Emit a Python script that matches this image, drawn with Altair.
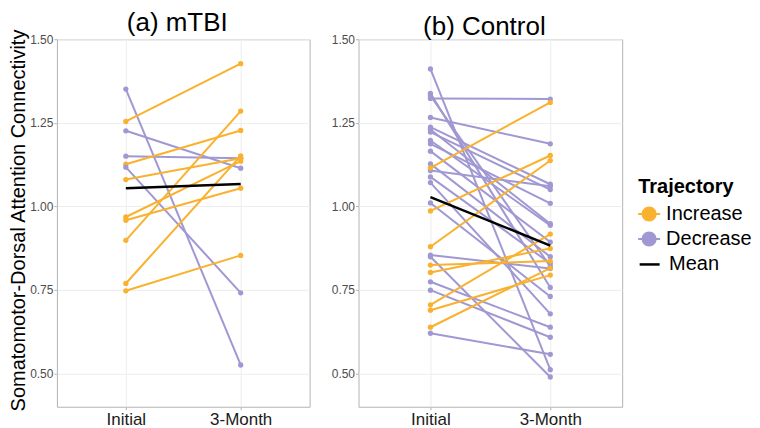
import altair as alt
import pandas as pd

groups = ["(a) mTBI", "(b) Control"]
times = ["Initial", "3-Month"]
trajectories = ["Increase", "Decrease"]
traj_colors = ["#F9B12E", "#A098D2"]

mtbi_initial = [1.351, 1.254, 1.226, 1.150, 1.126, 1.117, 1.080, 0.968, 0.958, 0.898, 0.769, 0.747]
mtbi_month3 = [0.525, 1.427, 1.114, 1.144, 1.227, 0.741, 1.144, 1.135, 1.054, 1.285, 1.151, 0.853]

control_initial = [1.411, 1.338, 1.331, 1.323, 1.266, 1.237, 1.230, 1.222, 1.197, 1.187,
                   1.165, 1.127, 1.107, 1.088, 1.071, 1.010, 0.854, 0.849, 0.774, 0.749,
                   0.620, 1.115, 0.986, 0.879, 0.824, 0.802, 0.705, 0.689, 0.638]
control_month3 = [0.511, 0.757, 0.820, 1.321, 1.187, 1.066, 0.948, 1.050, 0.943, 1.009,
                  0.893, 0.849, 1.060, 0.829, 0.678, 0.730, 0.814, 0.489, 0.638, 0.608,
                  0.557, 1.311, 1.152, 1.137, 0.836, 0.874, 0.917, 0.794, 0.815]

y_ticks = [0.5, 0.75, 1.0, 1.25, 1.5]

rows = []
for g, ini, m3 in [(groups[0], mtbi_initial, mtbi_month3), (groups[1], control_initial, control_month3)]:
    for i, (a, b) in enumerate(zip(ini, m3)):
        traj = "Increase" if b > a else "Decrease"
        rows.append(dict(group=g, subject=f"{g}-{i}", time=times[0], value=a, traj=traj))
        rows.append(dict(group=g, subject=f"{g}-{i}", time=times[1], value=b, traj=traj))
df = pd.DataFrame(rows)

FONT = "Liberation Sans"
SYM = ("M-1,-0.09H1V0.09H-1Z"
       "M0.68,0A0.68,0.68 0 1 1 -0.68,0A0.68,0.68 0 1 1 0.68,0Z")
PLOT_H = 368


def panel(g, width, first):
    base = alt.Chart(df).transform_filter(alt.datum.group == g)
    x = alt.X("time:N", sort=times,
              scale=alt.Scale(type="point", padding=0.6),
              axis=alt.Axis(title=None, labelAngle=0, labelFontSize=17, labelColor="#1a1a1a",
                            labelFont=FONT, grid=True, gridColor="#ededed", gridWidth=1,
                            ticks=True, tickColor="#b3b3b3", tickSize=3, domain=False,
                            labelPadding=2))
    yaxis = dict(values=y_ticks, format=".2f", labelFontSize=12, labelColor="#4d4d4d",
                 labelFont=FONT, grid=True, gridColor="#ededed", gridWidth=1, ticks=True,
                 tickColor="#b3b3b3", tickSize=3, domain=False, labelPadding=1)
    if first:
        yaxis.update(title="Somatomotor-Dorsal Attention Connectivity", titleFontSize=20,
                     titleFont=FONT, titleFontWeight="normal", titleColor="black", titlePadding=1,
                     titleY=PLOT_H / 2 - 3)
    else:
        yaxis.update(title=None)
    yscale = alt.Scale(domain=[0.4, 1.5], nice=False, zero=False)
    color = alt.Color("traj:N",
                      scale=alt.Scale(domain=trajectories, range=traj_colors),
                      legend=alt.Legend(title="Trajectory", orient="none", legendX=582, legendY=138,
                                        symbolType=SYM, symbolSize=484, symbolStrokeWidth=0,
                                        titleFontSize=20, titleFont=FONT, titleFontWeight="bold",
                                        titleColor="black", labelFontSize=20, labelFont=FONT,
                                        labelColor="black", labelOffset=6, rowPadding=4,
                                        titlePadding=6))
    lines = base.mark_line(strokeWidth=2).encode(
        x=x, y=alt.Y("value:Q", scale=yscale, axis=alt.Axis(**yaxis)),
        color=color, detail="subject:N")
    points = base.mark_circle(size=28, opacity=1).encode(
        x=x, y=alt.Y("value:Q", scale=yscale), color=color)
    mean = base.transform_calculate(stat="'Mean'").mark_line(strokeWidth=2.5).encode(
        x=x, y=alt.Y("mean(value):Q", scale=yscale),
        stroke=alt.Stroke("stat:N", scale=alt.Scale(domain=["Mean"], range=["black"]),
                          legend=alt.Legend(title=None, orient="none", legendX=582, legendY=214,
                                            symbolType="stroke", symbolSize=400,
                                            symbolStrokeWidth=2.5, labelFontSize=20,
                                            labelFont=FONT, labelColor="black", labelOffset=8)))
    return alt.layer(lines, points, mean).properties(
        width=width, height=PLOT_H,
        title=alt.TitleParams(g, fontSize=26, font=FONT, fontWeight="normal", color="black",
                              anchor="middle", offset=-7, dx=-6))


chart = alt.hconcat(panel(groups[0], 253, True), panel(groups[1], 264, False), spacing=20) \
    .resolve_scale(color="shared", stroke="shared") \
    .properties(padding=0, background="white") \
    .configure_view(stroke="#b3b3b3", strokeWidth=1)

chart.save("out.html", embed_options={"renderer": "svg", "actions": False})
